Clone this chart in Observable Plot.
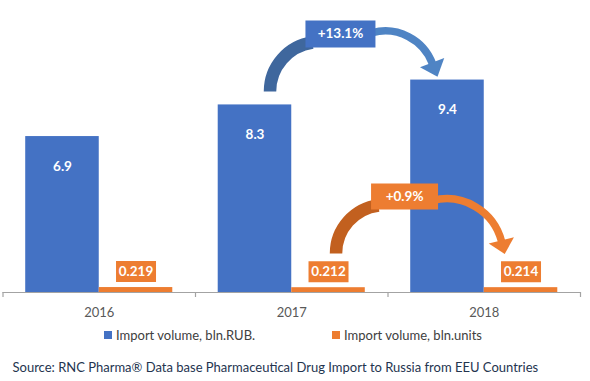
<!DOCTYPE html>
<html>
<head>
<meta charset="utf-8">
<script src="https://cdn.jsdelivr.net/npm/d3@7"></script>
<script src="https://cdn.jsdelivr.net/npm/@observablehq/plot@0.6"></script>
<style>
  html, body { margin: 0; padding: 0; background: #fff; }
  #wrap { position: relative; width: 590px; height: 381px; font-family: Lato, "Open Sans", sans-serif; }
  #chart svg { display: block; }
  #legend { position: absolute; top: 326px; left: 0; width: 590px; height: 18px; font-size: 13px; color: #404040; }
  .item { position: absolute; top: 0; display: flex; align-items: center; height: 18px; white-space: nowrap; }
  .sw { width: 8px; height: 8px; margin-right: 4px; }
  #source { position: absolute; top: 358px; left: 12.5px; font-size: 13px; line-height: 18px; color: #24344f; white-space: nowrap; }
</style>
</head>
<body>
<div id="wrap">
  <div id="chart"></div>
  <div id="legend"></div>
  <div id="source"></div>
</div>
<script>
// ---- data ----
const years = [2016, 2017, 2018];
const seriesNames = ["Import volume, bln.RUB.", "Import volume, bln.units"];
const rubValues = [6.9, 8.3, 9.4];
const unitValues = [0.219, 0.212, 0.214];
const rubLabels = ["6.9", "8.3", "9.4"];
const unitLabels = ["0.219", "0.212", "0.214"];
const growthLabels = ["+13.1%", "+0.9%"];
const sourceText = "Source: RNC Pharma\u00ae Data base Pharmaceutical Drug Import to Russia from EEU Countries";
const colors = ["#4472C4", "#ED7D31"];

// ---- derived table ----
const rows = years.map((year, i) => ({
  year, rub: rubValues[i], units: unitValues[i], rubLabel: rubLabels[i], unitLabel: unitLabels[i]
}));
const bandEdges = years.map(y => y - 0.5).concat([years[years.length - 1] + 0.5]);
const barW = 0.382; // bar width as a fraction of one category step
const axisColor = "#a3a3a3";

// custom symbols
const boxSymbol = (w, h) => ({ draw(ctx) { ctx.rect(-w / 2, -h / 2, w, h); } });
const headSymbol = (w, l) => ({ draw(ctx) { ctx.moveTo(-w / 2, -1); ctx.lineTo(w / 2, -1); ctx.lineTo(0, l); ctx.closePath(); } });

const chart = Plot.plot({
  width: 590,
  height: 322,
  marginLeft: 2.5,
  marginRight: 10,
  marginTop: 20.8,
  marginBottom: 30,
  x: { type: "linear", domain: [bandEdges[0], bandEdges[bandEdges.length - 1]] },
  y: { domain: [0, 12], axis: null },
  style: { fontFamily: "Lato, 'Open Sans', sans-serif", fontSize: "13px", background: "#fff" },
  marks: [
    Plot.rect(rows, { x1: d => d.year - barW, x2: d => d.year, y1: 0, y2: "rub", fill: colors[0] }),
    Plot.rect(rows, { x1: d => d.year, x2: d => d.year + barW, y1: 0, y2: "units", fill: colors[1] }),
    Plot.ruleY([0], { stroke: axisColor, strokeWidth: 1.2 }),
    Plot.axisX(bandEdges, { tickSize: 5, tickFormat: () => "", stroke: axisColor, strokeWidth: 1.2, label: null }),
    Plot.axisX(years, { tickSize: 0, tickPadding: 15, tickFormat: d => String(d), fill: "#595959", fontSize: 13, label: null }),
    // value labels on RUB bars
    Plot.text(rows, { x: d => d.year - barW / 2, y: "rub", dy: 30, text: "rubLabel", fill: "#fff", fontWeight: "bold", fontSize: 13.5 }),
    // boxed value labels over unit bars
    Plot.dot(rows, { x: d => d.year + barW / 2, y: "units", dy: -16, r: 1, symbol: boxSymbol(40, 21), fill: colors[1], stroke: "none" }),
    Plot.text(rows, { x: d => d.year + barW / 2, y: "units", dy: -16, text: "unitLabel", fill: "#fff", fontWeight: "bold", fontSize: 13.5 }),
    // growth arrows (RUB)
    Plot.arrow([0], { x1: 2016.887, y1: 8.89, x2: 2017.108, y2: 11.06, bend: 41, headLength: 0, stroke: "#3f679d", strokeWidth: 12.5, strokeLinecap: "butt" }),
    Plot.arrow([0], { x1: 2017.419, y1: 11.5, x2: 2017.731, y2: 10.13, bend: 42, headLength: 0, stroke: "#4f84c4", strokeWidth: 7.5, strokeLinecap: "butt" }),
    Plot.dot([0], { x: () => 2017.731, y: () => 10.13, r: 1, symbol: headSymbol(26, 14), rotate: -21, fill: "#4f84c4", stroke: "none" }),
    // growth arrows (units)
    Plot.arrow([0], { x1: 2017.230, y1: 1.726, x2: 2017.451, y2: 3.85, bend: 41.5, headLength: 0, stroke: "#c2601f", strokeWidth: 12.5, strokeLinecap: "butt" }),
    Plot.arrow([0], { x1: 2017.731, y1: 4.07, x2: 2018.09, y2: 2.26, bend: 45, headLength: 0, stroke: "#ed7d31", strokeWidth: 7.5, strokeLinecap: "butt" }),
    Plot.dot([0], { x: () => 2018.09, y: () => 2.26, r: 1, symbol: headSymbol(26, 13), rotate: -14, fill: "#ed7d31", stroke: "none" }),
    // growth boxes
    Plot.dot(growthLabels.slice(0, 1), { x: () => 2017.253, y: () => 11.44, r: 1, symbol: boxSymbol(70, 27), fill: colors[0], stroke: "none" }),
    Plot.text(growthLabels.slice(0, 1), { x: () => 2017.253, y: () => 11.44, text: d => d, fill: "#fff", fontWeight: "bold", fontSize: 13.5 }),
    Plot.dot(growthLabels.slice(1, 2), { x: () => 2017.586, y: () => 4.25, r: 1, symbol: boxSymbol(67, 26), fill: colors[1], stroke: "none" }),
    Plot.text(growthLabels.slice(1, 2), { x: () => 2017.586, y: () => 4.25, text: d => d, fill: "#fff", fontWeight: "bold", fontSize: 13.5 })
  ]
});
document.getElementById("chart").append(chart);

// legend
const legend = document.getElementById("legend");
const legendLeft = [104, 332];
seriesNames.forEach((name, i) => {
  const item = document.createElement("div");
  item.className = "item";
  item.style.left = legendLeft[i] + "px";
  const sw = document.createElement("span");
  sw.className = "sw";
  sw.style.background = colors[i];
  const label = document.createElement("span");
  label.textContent = name;
  item.append(sw, label);
  legend.append(item);
});
document.getElementById("source").textContent = sourceText;
</script>
</body>
</html>
